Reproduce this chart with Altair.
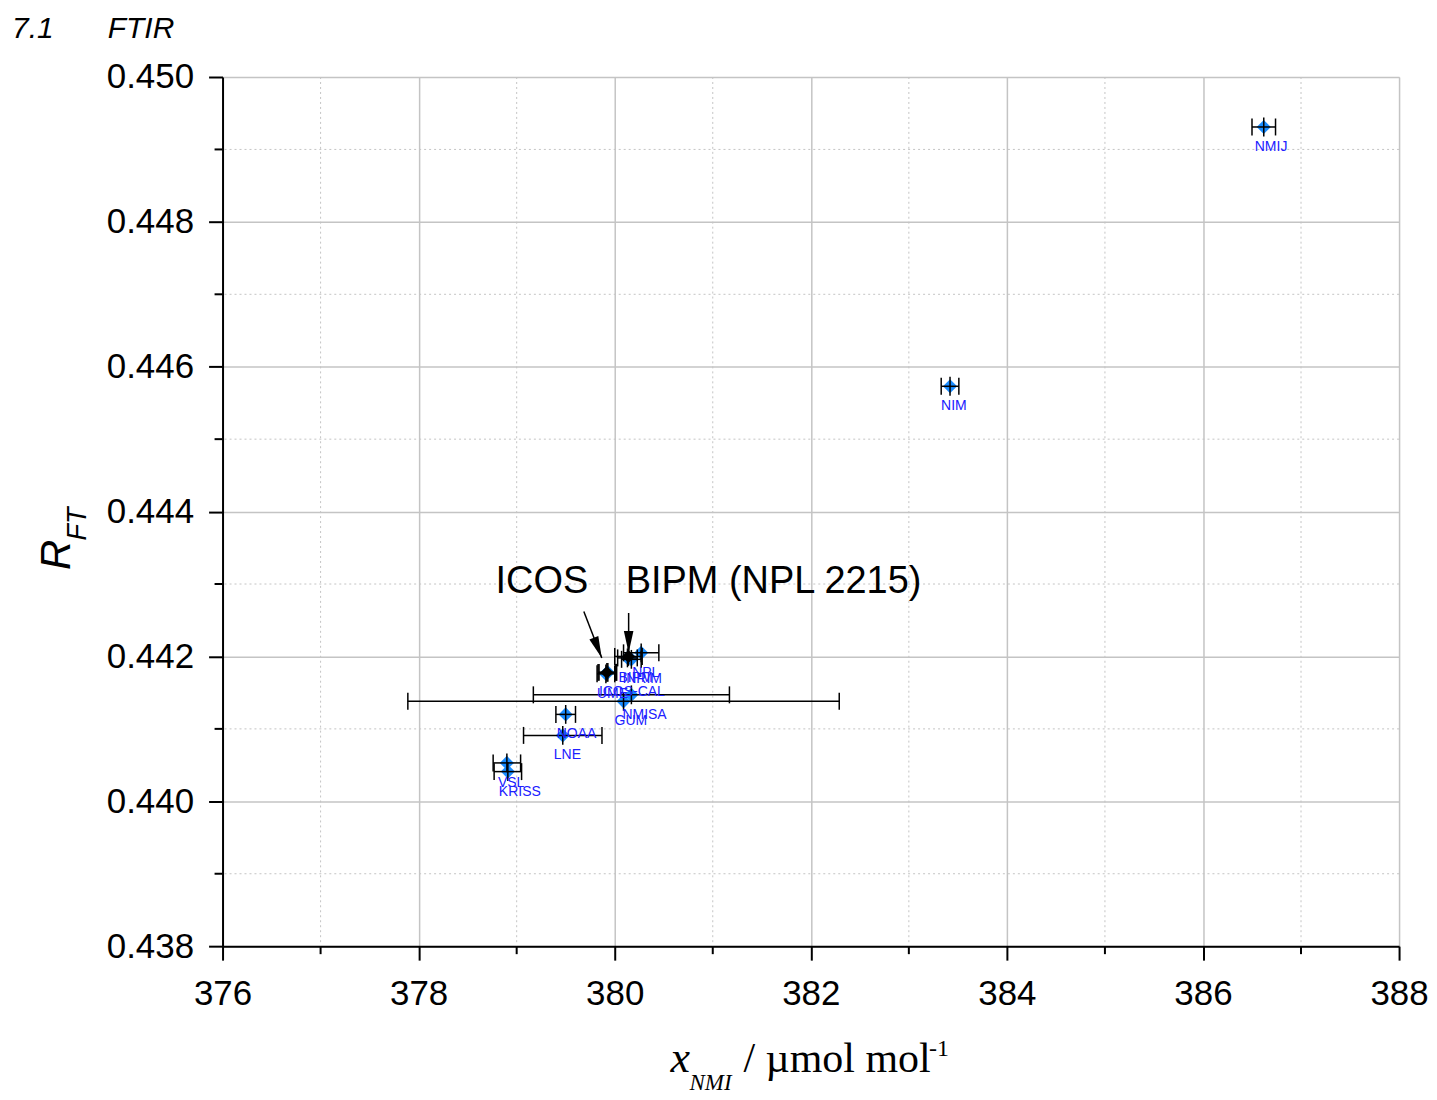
import altair as alt
import pandas as pd

# ---- data ----
lab_names = ["NMIJ", "NIM", "NPL", "BIPM", "INRIM", "UME", "ICOS-CAL",
             "NMISA", "GUM", "NOAA", "LNE", "VSL", "KRISS"]
lab_x = [386.62, 383.42, 380.27, 380.13, 380.17, 379.91, 379.93,
         380.17, 380.09, 379.50, 379.47, 378.90, 378.91]
lab_y = [0.44931, 0.44573, 0.44205, 0.44198, 0.44196, 0.44176, 0.44178,
         0.44147, 0.44138, 0.44120, 0.44091, 0.44053, 0.44041]
lab_ux = [0.12, 0.09, 0.18, 0.10, 0.10, 0.09, 0.09,
          1.00, 2.20, 0.10, 0.40, 0.14, 0.14]
lab_uy = [0.00013] * len(lab_names)

ref_names = ["ICOS", "BIPM (NPL 2215)"]
ref_x = [379.92, 380.14]
ref_y = [0.44178, 0.44200]
ref_ux = [0.09, 0.14]
ref_uy = [0.00013, 0.00013]

x_major = [376, 378, 380, 382, 384, 386, 388]
x_minor = [377, 379, 381, 383, 385, 387]
y_major = [0.438, 0.440, 0.442, 0.444, 0.446, 0.448, 0.450]
y_minor = [0.439, 0.441, 0.443, 0.445, 0.447, 0.449]

note_text = ["ICOS", "BIPM (NPL 2215)"]
note_x = [379.257, 380.112]
note_y = [0.44303, 0.44303]

arrow_x0 = [379.685, 380.142]
arrow_y0 = [0.44262, 0.44260]
arrow_x1 = [379.868, 380.142]
arrow_y1 = [0.44198, 0.44205]
arrow_ang = [338.6, 0.0]

# ---- tables ----
labs = pd.DataFrame({"name": lab_names, "x": lab_x, "y": lab_y})
labs["xlo"] = labs["x"] - pd.Series(lab_ux)
labs["xhi"] = labs["x"] + pd.Series(lab_ux)
labs["ylo"] = labs["y"] - pd.Series(lab_uy)
labs["yhi"] = labs["y"] + pd.Series(lab_uy)

refs = pd.DataFrame({"name": ref_names, "x": ref_x, "y": ref_y})
refs["xlo"] = refs["x"] - pd.Series(ref_ux)
refs["xhi"] = refs["x"] + pd.Series(ref_ux)
refs["ylo"] = refs["y"] - pd.Series(ref_uy)
refs["yhi"] = refs["y"] + pd.Series(ref_uy)

notes = pd.DataFrame({"t": note_text, "x": note_x, "y": note_y})
arrows = pd.DataFrame({"x0": arrow_x0, "y0": arrow_y0, "x1": arrow_x1,
                       "y1": arrow_y1, "ang": arrow_ang})
xmin_df = pd.DataFrame({"v": x_minor})
ymin_df = pd.DataFrame({"v": y_minor})

W, H = 1179, 871
GRID = "#c4c4c4"
SANS = "Liberation Sans"
SERIF = "Liberation Serif"

XAX = alt.Axis(values=x_major, title=None, grid=True, gridColor=GRID, gridWidth=1.5,
               domainColor="black", domainWidth=2, tickColor="black", tickWidth=2,
               tickSize=14, labelFont=SANS, labelFontSize=35, labelColor="black",
               labelPadding=16, format="d", labelFlush=False)
YAX = alt.Axis(values=y_major, title=None, grid=True, gridColor=GRID, gridWidth=1.5,
               domainColor="black", domainWidth=2, tickColor="black", tickWidth=2,
               tickSize=14, labelFont=SANS, labelFontSize=35, labelColor="black",
               labelPadding=15, format=".3f", labelFlush=False)
XS = alt.Scale(domain=[376, 388], nice=False, zero=False)
YS = alt.Scale(domain=[0.438, 0.450], nice=False, zero=False)


def X(f):
    return alt.X(f, type="quantitative", scale=XS, axis=XAX)


def Y(f):
    return alt.Y(f, type="quantitative", scale=YS, axis=YAX)


one = alt.Data(values=[{"a": 1}])

# minor grid + minor ticks
xgrid_min = alt.Chart(xmin_df).mark_rule(color=GRID, strokeDash=[2, 3], strokeWidth=1).encode(x=X("v"))
ygrid_min = alt.Chart(ymin_df).mark_rule(color=GRID, strokeDash=[2, 3], strokeWidth=1).encode(y=Y("v"))
xtick_min = alt.Chart(xmin_df).mark_rule(color="black", strokeWidth=2).encode(
    x=X("v"), y=alt.value(H), y2=alt.value(H + 8))
ytick_min = alt.Chart(ymin_df).mark_rule(color="black", strokeWidth=2).encode(
    y=Y("v"), x=alt.value(-8), x2=alt.value(0))

BLUE = "#1a8cff"
pts = alt.Chart(labs).mark_point(shape="diamond", filled=True, size=200, color=BLUE, opacity=1).encode(
    x=X("x"), y=Y("y"))
ebx = alt.Chart(labs).mark_rule(color="black", strokeWidth=1.5).encode(x=X("xlo"), x2="xhi", y=Y("y"))
capl = alt.Chart(labs).mark_tick(orient="vertical", size=17, thickness=1.5, color="black", opacity=1).encode(
    x=X("xlo"), y=Y("y"))
capr = alt.Chart(labs).mark_tick(orient="vertical", size=17, thickness=1.5, color="black", opacity=1).encode(
    x=X("xhi"), y=Y("y"))
eby = alt.Chart(labs).mark_rule(color="black", strokeWidth=1.5).encode(x=X("x"), y=Y("ylo"), y2="yhi")
txt = alt.Chart(labs).mark_text(align="left", baseline="middle", dx=-9, dy=20, font=SANS,
                                fontSize=14, color="#2020ff").encode(x=X("x"), y=Y("y"), text="name:N")

rpts = alt.Chart(refs).mark_point(shape="diamond", filled=True, size=170, color="black", opacity=1).encode(
    x=X("x"), y=Y("y"))
rebx = alt.Chart(refs).mark_rule(color="black", strokeWidth=1.5).encode(x=X("xlo"), x2="xhi", y=Y("y"))
rcapl = alt.Chart(refs).mark_tick(orient="vertical", size=17, thickness=1.5, color="black", opacity=1).encode(
    x=X("xlo"), y=Y("y"))
rcapr = alt.Chart(refs).mark_tick(orient="vertical", size=17, thickness=1.5, color="black", opacity=1).encode(
    x=X("xhi"), y=Y("y"))
reby = alt.Chart(refs).mark_rule(color="black", strokeWidth=1.5).encode(x=X("x"), y=Y("ylo"), y2="yhi")

note_icos = alt.Chart(notes.iloc[[0]]).mark_text(align="center", baseline="middle", font=SANS,
                                                 fontSize=38, color="black").encode(x=X("x"), y=Y("y"), text="t:N")
note_bipm = alt.Chart(notes.iloc[[1]]).mark_text(align="left", baseline="middle", font=SANS,
                                                 fontSize=38, color="black").encode(x=X("x"), y=Y("y"), text="t:N")
arr_line = alt.Chart(arrows).mark_rule(color="black", strokeWidth=1.5).encode(
    x=X("x0"), y=Y("y0"), x2="x1", y2="y1")
arr_head = alt.Chart(arrows).mark_point(shape="M0,0 L-0.22,-1 L0.22,-1 Z", filled=True, size=1900,
                                        color="black", opacity=1).encode(
    x=X("x1"), y=Y("y1"), angle=alt.Angle("ang:Q", scale=None))

# titles as text pieces
t71 = alt.Chart(one).mark_text(text="7.1", align="left", baseline="middle", font=SANS, fontSize=30,
                               fontStyle="italic", color="black").encode(x=alt.value(-211), y=alt.value(-48))
tftir = alt.Chart(one).mark_text(text="FTIR", align="left", baseline="middle", font=SANS, fontSize=30,
                                 fontStyle="italic", color="black").encode(x=alt.value(-115), y=alt.value(-48))
yR = alt.Chart(one).mark_text(text="R", align="center", baseline="middle", angle=270, font=SANS, fontSize=42,
                              fontStyle="italic", color="black").encode(x=alt.value(-166), y=alt.value(479))
yFT = alt.Chart(one).mark_text(text="FT", align="center", baseline="middle", angle=270, font=SANS, fontSize=27,
                               fontStyle="italic", color="black").encode(x=alt.value(-145), y=alt.value(448))
xx = alt.Chart(one).mark_text(text="x", align="left", baseline="alphabetic", font=SERIF, fontSize=44,
                              fontStyle="italic", color="black").encode(x=alt.value(449), y=alt.value(997))
xnmi = alt.Chart(one).mark_text(text="NMI", align="left", baseline="alphabetic", font=SERIF, fontSize=23,
                                fontStyle="italic", color="black").encode(x=alt.value(468), y=alt.value(1015))
xunit = alt.Chart(one).mark_text(text="/ \u00b5mol mol", align="left", baseline="alphabetic", font=SERIF,
                                 fontSize=42, color="black").encode(x=alt.value(522), y=alt.value(997))
xsup = alt.Chart(one).mark_text(text="-1", align="left", baseline="alphabetic", font=SERIF, fontSize=24,
                                color="black").encode(x=alt.value(708), y=alt.value(981))

chart = alt.layer(
    xgrid_min, ygrid_min, xtick_min, ytick_min,
    pts, ebx, capl, capr, eby, txt,
    rpts, rebx, rcapl, rcapr, reby,
    arr_line, arr_head, note_icos, note_bipm,
    t71, tftir, yR, yFT, xx, xnmi, xunit, xsup,
).properties(
    width=W, height=H,
    autosize=alt.AutoSizeParams(type="none"),
    padding={"left": 215, "top": 68, "right": 30, "bottom": 152},
).configure_view(stroke=None).configure(background="white")

chart.save("out.html", embed_options={"renderer": "svg", "actions": False})
